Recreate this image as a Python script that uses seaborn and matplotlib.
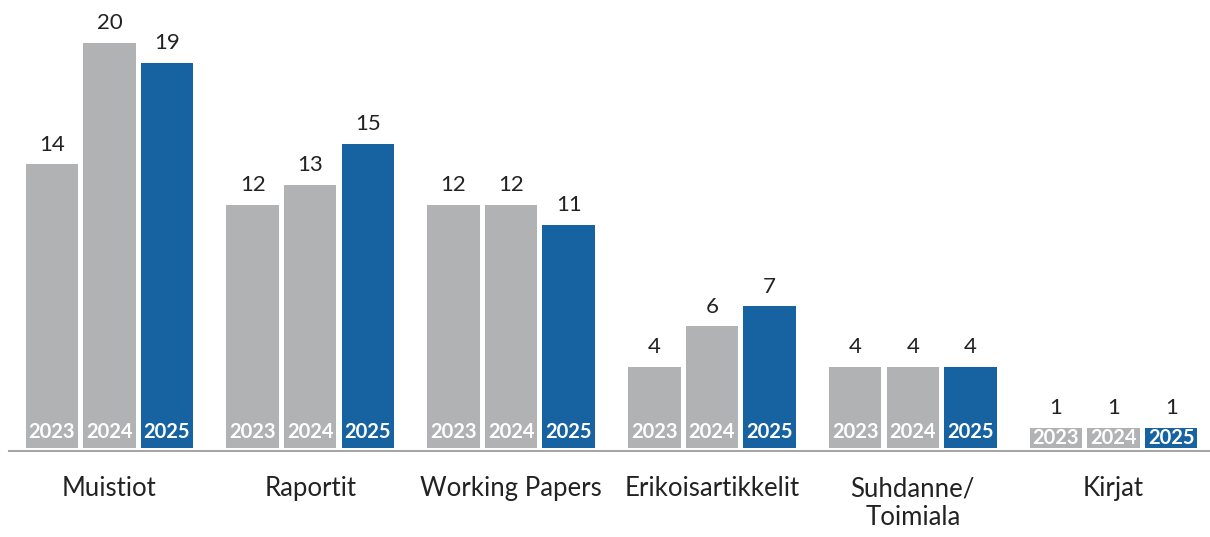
import pandas as pd
import matplotlib
matplotlib.use("Agg")
import matplotlib.pyplot as plt
import seaborn as sns

categories = ["Muistiot", "Raportit", "Working Papers", "Erikoisartikkelit",
              "Suhdanne/\nToimiala", "Kirjat"]
years = ["2023", "2024", "2025"]
values_2023 = [14, 12, 12, 4, 4, 1]
values_2024 = [20, 13, 12, 6, 4, 1]
values_2025 = [19, 15, 11, 7, 4, 1]

GRAY = "#B1B2B4"
BLUE = "#1763A1"

sns.set_theme(style="white")
plt.rcParams['font.family'] = ['Lato', 'DejaVu Sans']

rows = []
for year, vals in zip(years, [values_2023, values_2024, values_2025]):
    for cat, v in zip(categories, vals):
        rows.append({"category": cat, "year": year, "value": v})
df = pd.DataFrame(rows)

fig = plt.figure(figsize=(12.1, 5.37), dpi=100)
ax = fig.add_axes([9 / 1210, 89 / 537, 1205 / 1210, 448 / 537])

sns.barplot(data=df, x="category", y="value", hue="year", order=categories,
            hue_order=years, palette=[GRAY, GRAY, BLUE], width=0.86, gap=0.09,
            saturation=1, edgecolor="none", legend=False, ax=ax)

ax.set_xlim(-0.5, 5.5)
ax.set_ylim(0, 22.12)

for year, container in zip(years, ax.containers):
    ax.bar_label(container, padding=7, fontsize=16, color="#222222")
    for bar in container:
        h = bar.get_height()
        xc = bar.get_x() + bar.get_width() / 2
        if h <= 1:
            # tiny bar: year label fills the bar
            ax.text(xc, h / 2, year, ha="center", va="center", color="white",
                    fontsize=14.5, fontweight="bold")
        else:
            ax.text(xc, 0.32, year, ha="center", va="bottom", color="white",
                    fontsize=14.5, fontweight="bold")

ax.set_xlabel("")
ax.set_ylabel("")
ax.set_yticks([])
ax.tick_params(axis="x", length=0, pad=18, labelsize=18.5, colors="#222222")
for lbl in ax.get_xticklabels():
    lbl.set_linespacing(1.3)
for side in ["top", "right", "left"]:
    ax.spines[side].set_visible(False)
ax.spines["bottom"].set_position(("outward", 2.2))
ax.spines["bottom"].set_color("#A6A6A6")
ax.spines["bottom"].set_linewidth(1.5)

fig.savefig("out.png", dpi=100)
